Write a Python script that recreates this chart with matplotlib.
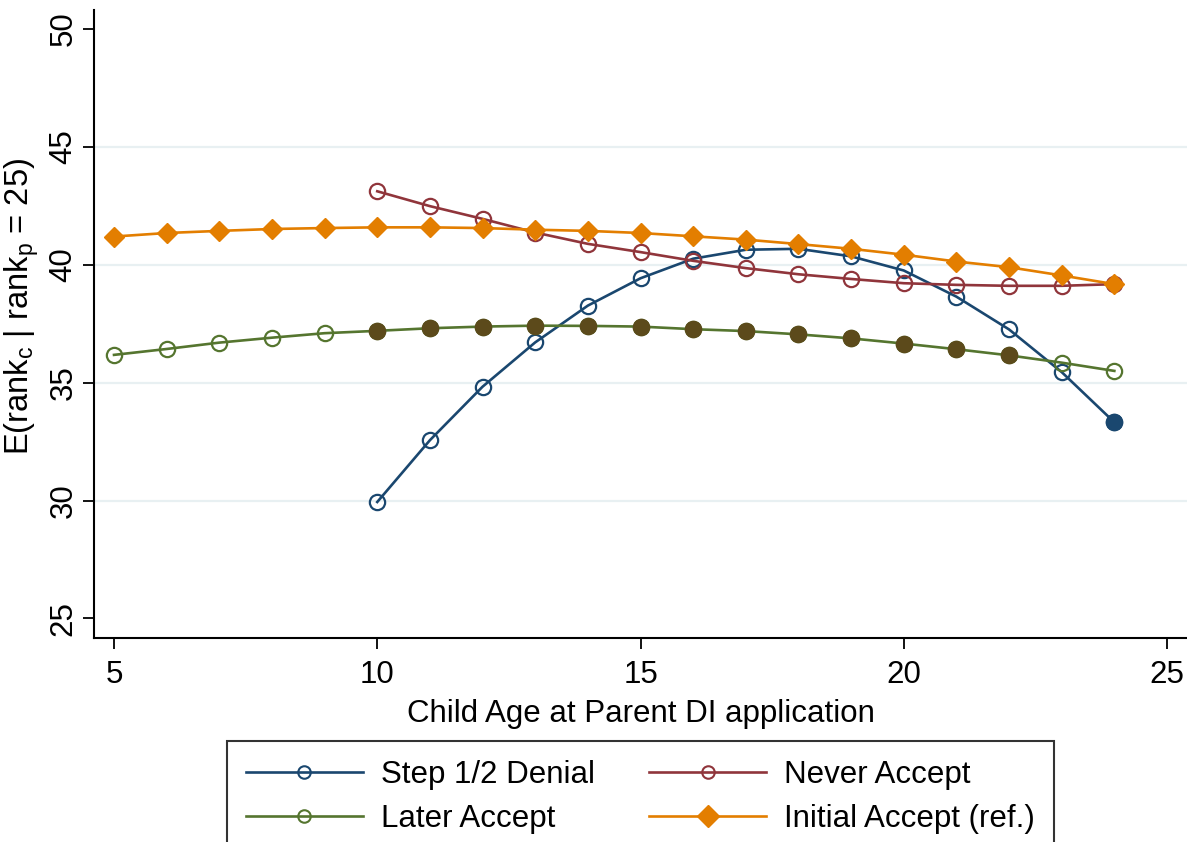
import matplotlib
matplotlib.use("Agg")
import matplotlib.pyplot as plt
from matplotlib.lines import Line2D
import numpy as np

plt.rcParams['font.family'] = ['Liberation Sans', 'DejaVu Sans']
plt.rcParams['mathtext.fontset'] = 'custom'
plt.rcParams['mathtext.rm'] = 'Liberation Sans'
plt.rcParams['mathtext.it'] = 'Liberation Sans:italic'

# ---- data ----
ages_all = list(range(5, 25))
ages_late = list(range(10, 25))
denial = [29.94, 32.56, 34.83, 36.71, 38.27, 39.43, 40.26, 40.64, 40.68, 40.36,
          39.76, 38.65, 37.26, 35.45, 33.32]
never = [43.12, 42.49, 41.95, 41.37, 40.89, 40.54, 40.17, 39.86, 39.60, 39.40,
         39.22, 39.15, 39.11, 39.11, 39.18]
later = [36.18, 36.43, 36.70, 36.91, 37.10, 37.20, 37.31, 37.38, 37.42, 37.41,
         37.38, 37.27, 37.19, 37.05, 36.88, 36.66, 36.42, 36.16, 35.85, 35.50]
initial = [41.20, 41.35, 41.44, 41.52, 41.56, 41.59, 41.59, 41.56, 41.49, 41.44,
           41.35, 41.21, 41.07, 40.88, 40.68, 40.43, 40.14, 39.90, 39.55, 39.18]
# ages whose markers are drawn solid
later_solid_ages = list(range(10, 23))
denial_solid_ages = [24]

series_labels = ["Step 1/2 Denial", "Never Accept", "Later Accept", "Initial Accept (ref.)"]
x_ticks = [5, 10, 15, 20, 25]
y_ticks = [25, 30, 35, 40, 45, 50]
x_label = "Child Age at Parent DI application"
y_label = r"E(rank$_{\mathregular{c}}$ | rank$_{\mathregular{p}}$ = 25)"

# ---- style ----
NAVY = '#1a476f'
MAROON = '#90353b'
GREEN = '#55752f'
ORANGE = '#e37e00'
BROWN = '#5c4a1b'
GRID = '#e8f0f2'
FS = 22.5

W, H = 1187, 842
fig = plt.figure(figsize=(W / 100, H / 100), dpi=100)
ax = fig.add_axes([94 / W, 1 - 638 / H, 1 - 94 / W, (638 - 10) / H])

for yv in y_ticks[1:-1]:
    ax.axhline(yv, color=GRID, lw=1.6, zorder=0)

lw = 1.9
ms = 11
mew = 1.6

def solid_subset(xs, ys, keep):
    px = [a for a in xs if a in keep]
    py = [b for a, b in zip(xs, ys) if a in keep]
    return px, py

ax.plot(ages_late, denial, color=NAVY, lw=lw, marker='o', ms=ms, mfc='none', mew=mew, zorder=3)
px, py = solid_subset(ages_late, denial, denial_solid_ages)
ax.plot(px, py, ls='none', marker='o', ms=ms, mfc=NAVY, mec=NAVY, mew=mew, zorder=3)

ax.plot(ages_late, never, color=MAROON, lw=lw, marker='o', ms=ms, mfc='none', mew=mew, zorder=3)

ax.plot(ages_all, later, color=GREEN, lw=lw, marker='o', ms=ms, mfc='none', mew=mew, zorder=3)
px, py = solid_subset(ages_all, later, later_solid_ages)
ax.plot(px, py, ls='none', marker='o', ms=ms, mfc=BROWN, mec=BROWN, mew=mew, zorder=3)

ax.plot(ages_all, initial, color=ORANGE, lw=lw, marker='D', ms=10.5, mfc=ORANGE, mec=ORANGE, mew=1, zorder=4)

ax.set_xlim(4.62, 25.38)
ax.set_ylim(24.17, 50.81)
ax.set_xticks(x_ticks)
ax.set_yticks(y_ticks)
ax.tick_params(direction='out', length=8, width=1.3, labelsize=FS, colors='black')
ax.tick_params(axis='x', pad=8)
ax.tick_params(axis='y', pad=3)
for lbl in ax.get_yticklabels():
    lbl.set_rotation(90)
    lbl.set_va('center')

for s in ['top', 'right']:
    ax.spines[s].set_visible(False)
for s in ['left', 'bottom']:
    ax.spines[s].set_linewidth(1.5)

ax.set_xlabel(x_label, fontsize=FS, labelpad=6)
fig.text(22 / W, 1 - 306 / H, y_label, rotation=90, ha='center', va='center', fontsize=23.5)

handles = [
    Line2D([], [], color=NAVY, lw=lw, marker='o', ms=9, mfc='none', mew=1.5),
    Line2D([], [], color=GREEN, lw=lw, marker='o', ms=9, mfc='none', mew=1.5),
    Line2D([], [], color=MAROON, lw=lw, marker='o', ms=9, mfc='none', mew=1.5),
    Line2D([], [], color=ORANGE, lw=lw, marker='D', ms=11, mfc=ORANGE, mec=ORANGE),
]
labels = [series_labels[0], series_labels[2], series_labels[1], series_labels[3]]
leg = fig.legend(handles, labels, ncol=2, loc='upper left',
                 bbox_to_anchor=(227 / W, 1 - 741 / H), frameon=True, fancybox=False,
                 edgecolor='black', fontsize=FS, handlelength=3.75, handletextpad=0.58,
                 columnspacing=1.73, borderpad=0.6, labelspacing=0.45, borderaxespad=0)
leg.get_frame().set_linewidth(1.5)

fig.savefig('out.png', dpi=100)
